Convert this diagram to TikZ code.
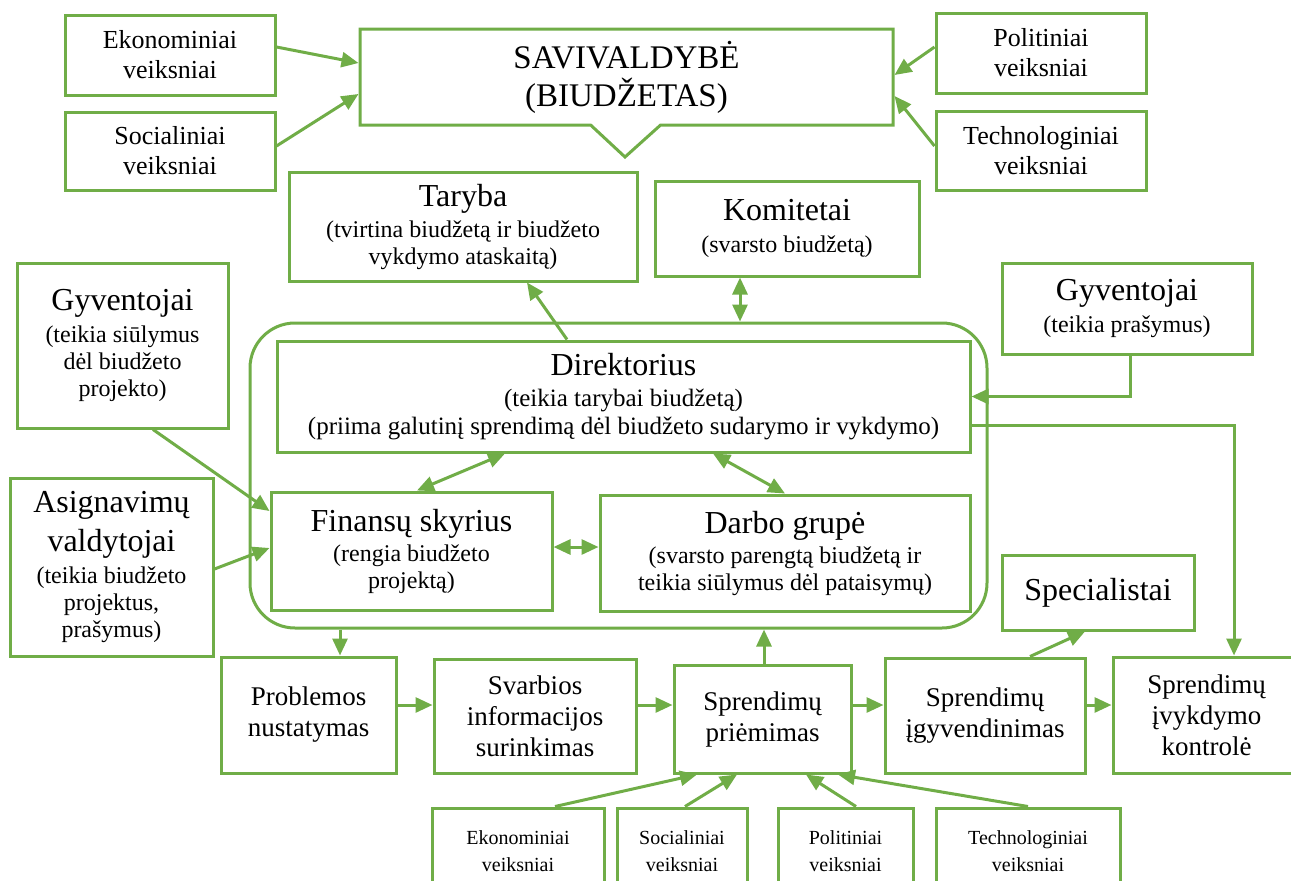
\documentclass[tikz,border=0pt]{standalone}
\usepackage{fontspec}
\setmainfont{Liberation Serif}
\usetikzlibrary{arrows.meta,shapes.callouts}

\definecolor{leafgreen}{RGB}{112,173,71}

\newcommand{\bannersize}{\fontsize{33}{38}\selectfont}
\newcommand{\headsize}{\fontsize{32}{37}\selectfont}
\newcommand{\notesize}{\fontsize{24}{27}\selectfont}
\newcommand{\widenote}{\fontsize{25}{27.5}\selectfont}
\newcommand{\factsize}{\fontsize{26}{30}\selectfont}
\newcommand{\stagesize}{\fontsize{27}{31}\selectfont}
\newcommand{\minisize}{\fontsize{20}{27}\selectfont}

\tikzset{
	box/.style={draw=leafgreen, line width=3pt, fill=white, align=center, inner sep=2pt},
	flow/.style={draw=leafgreen, line width=3pt, -{Triangle[length=17pt,width=15pt]}},
	flowboth/.style={draw=leafgreen, line width=3pt, {Triangle[length=17pt,width=15pt]}-{Triangle[length=17pt,width=15pt]}}
}

\begin{document}
\begin{tikzpicture}[x=1pt, y=-1pt]

\useasboundingbox (0,0) rectangle (1291,881);
\clip (0,0) rectangle (1291,881);

% top: municipality and outside factors
\node[box, font=\bannersize, rectangle callout, callout absolute pointer={(625,157)}, callout pointer width=70pt, minimum width=533pt, minimum height=96pt] (savi) at (626.5,77) {SAVIVALDYBĖ\\(BIUDŽETAS)};

\node[box, font=\factsize, minimum width=210pt, minimum height=80pt] (ekon) at (170,55) {Ekonominiai\\veiksniai};
\node[box, font=\factsize, minimum width=210pt, minimum height=78pt] (soc) at (170,151) {Socialiniai\\veiksniai};
\node[box, font=\factsize, minimum width=210pt, minimum height=80pt] (pol) at (1041,53) {Politiniai\\veiksniai};
\node[box, font=\factsize, minimum width=210pt, minimum height=79pt] (tech) at (1041,150.5) {Technologiniai\\veiksniai};

\node[box, font=\notesize, minimum width=348pt, minimum height=109pt] (tar) at (463,226.5) {{\headsize Taryba}\\[4pt](tvirtina biudžetą ir biudžeto\\vykdymo ataskaitą)};
\node[box, font=\notesize, minimum width=264pt, minimum height=95pt] (kom) at (787,228.5) {{\headsize Komitetai}\\[5pt](svarsto biudžetą)};

% administration
\node[box, rounded corners=45pt, minimum width=737pt, minimum height=305pt] (board) at (618.5,475.5) {};

\node[box, font=\widenote, minimum width=693pt, minimum height=111pt] (dir) at (623.5,396.5) {{\headsize Direktorius}\\[4pt](teikia tarybai biudžetą)\\(priima galutinį sprendimą dėl biudžeto sudarymo ir vykdymo)};
\node[box, font=\notesize, minimum width=281pt, minimum height=118pt] (fin) at (411.5,551) {{\headsize Finansų skyrius}\\[3pt](rengia biudžeto\\projektą)};
\node[box, font=\notesize, minimum width=370pt, minimum height=116pt] (darbo) at (785,553) {{\headsize Darbo grupė}\\[3pt](svarsto parengtą biudžetą ir\\teikia siūlymus dėl pataisymų)};

\node[box, font=\notesize, minimum width=211pt, minimum height=165pt] (lgyv) at (122.5,345.5) {{\headsize Gyventojai}\\[5pt](teikia siūlymus\\dėl biudžeto\\projekto)};
\node[box, font=\notesize, minimum width=203pt, minimum height=178pt] (asig) at (111.5,567) {{\headsize Asignavimų}\\[8pt]{\headsize valdytojai}\\[5pt](teikia biudžeto\\projektus,\\prašymus)};
\node[box, font=\notesize, minimum width=250pt, minimum height=91pt] (rgyv) at (1127,308.5) {{\headsize Gyventojai}\\[5pt](teikia prašymus)};

% decision stages
\node[box, font=\stagesize, minimum width=175pt, minimum height=116pt] (prob) at (308.5,715) {Problemos\\nustatymas};
\node[box, font=\stagesize, minimum width=202pt, minimum height=114pt] (svar) at (535,716) {Svarbios\\informacijos\\surinkimas};
\node[box, font=\stagesize, minimum width=177pt, minimum height=108pt] (spr) at (762.5,719) {Sprendimų\\priėmimas};
\node[box, font=\stagesize, minimum width=200pt, minimum height=115pt] (igyv) at (985,715.5) {Sprendimų\\įgyvendinimas};
\node[box, font=\stagesize, minimum width=187pt, minimum height=116pt] (kont) at (1206.5,715) {Sprendimų\\įvykdymo\\kontrolė};
\node[box, font=\headsize, minimum width=192pt, minimum height=75pt] (spec) at (1098,592.5) {Specialistai};

\node[box, font=\minisize, minimum width=172pt, minimum height=87pt] (ekon2) at (518,851.5) {Ekonominiai\\veiksniai};
\node[box, font=\minisize, minimum width=130pt, minimum height=87pt] (soc2) at (682,851.5) {Socialiniai\\veiksniai};
\node[box, font=\minisize, minimum width=135pt, minimum height=87pt] (pol2) at (845.5,851.5) {Politiniai\\veiksniai};
\node[box, font=\minisize, minimum width=184pt, minimum height=87pt] (tech2) at (1028,851.5) {Technologiniai\\veiksniai};

% connectors
\draw[flow] ([yshift=8pt]ekon.east) -- ([yshift=14pt]savi.west);
\draw[flow] ([yshift=5pt]soc.east) -- ([yshift=-17pt]savi.west);
\draw[flow] ([yshift=6pt]pol.west) -- ([yshift=2pt]savi.east);
\draw[flow] ([yshift=4.5pt]tech.west) -- ([yshift=-19pt]savi.east);

\draw[flow] ([xshift=-56.5pt]dir.north) -- ([xshift=64pt]tar.south);
\draw[flowboth] ([xshift=-47pt]kom.south) -- ([xshift=-47pt]kom.south |- board.north);
\draw[flowboth] ([xshift=-118.5pt]dir.south) -- ([xshift=5.5pt]fin.north);
\draw[flowboth] ([xshift=89.5pt]dir.south) -- (darbo.north);
\draw[flowboth] ([yshift=4pt]fin.east) -- ([yshift=4pt]fin.east -| darbo.west);

\draw[flow] ([xshift=30.5pt]lgyv.south) -- ([yshift=40pt]fin.west);
\draw[flow] ([yshift=-2pt]asig.east) -- ([yshift=3pt]fin.west);
\draw[flow] ([xshift=3pt]rgyv.south) |- (dir.east);
\draw[flow] ([yshift=-28.5pt]dir.east) -| ([xshift=27.5pt]kont.north);

\draw[flow] ([xshift=31.5pt]prob.north |- board.south) -- ([xshift=31.5pt]prob.north);
\draw[flow] ([xshift=1.5pt]spr.north) -- ([xshift=1.5pt]spr.north |- board.south);
\draw[flow] ([yshift=10pt]prob.east) -- ([yshift=10pt]prob.east -| svar.west);
\draw[flow] ([yshift=11pt]svar.east) -- ([yshift=11pt]svar.east -| spr.west);
\draw[flow] ([yshift=14pt]spr.east) -- ([yshift=14pt]spr.east -| igyv.west);
\draw[flow] ([yshift=10.5pt]igyv.east) -- ([yshift=10.5pt]igyv.east -| kont.west);
\draw[flow] ([xshift=45pt]igyv.north) -- ([xshift=-13pt]spec.south);

\draw[flow] ([xshift=37pt]ekon2.north) -- ([xshift=-65.5pt]spr.south);
\draw[flow] ([xshift=3pt]soc2.north) -- ([xshift=-25.5pt]spr.south);
\draw[flow] ([xshift=10.5pt]pol2.north) -- ([xshift=43.5pt]spr.south);
\draw[flow] (tech2.north) -- ([xshift=75.5pt]spr.south);

\end{tikzpicture}
\end{document}
